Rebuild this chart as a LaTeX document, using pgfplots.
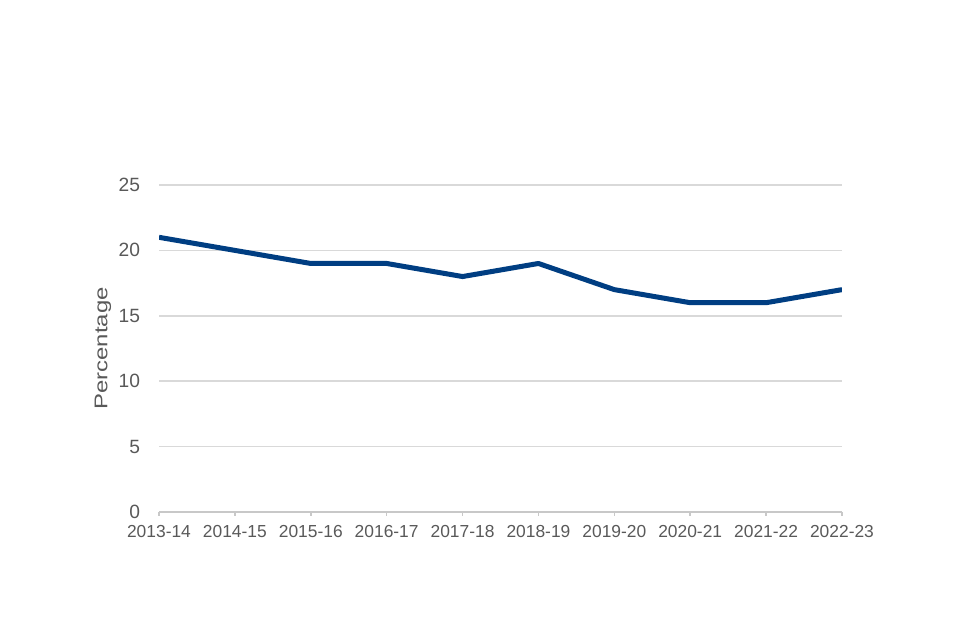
\documentclass[border=0pt]{standalone}
\usepackage{fontspec}
\setmainfont{Liberation Sans}
\usepackage{pgfplots}
\pgfplotsset{compat=1.18}
\definecolor{linecol}{RGB}{0,62,130}
\definecolor{gridcol}{RGB}{217,217,217}
\definecolor{axiscol}{RGB}{200,200,200}
\definecolor{textcol}{RGB}{89,89,89}
\begin{document}
\begin{tikzpicture}[x=1pt,y=1pt]
\path[use as bounding box] (0,0) rectangle (480,320);
\begin{axis}[
  at={(79.5pt,64pt)}, anchor=south west,
  scale only axis, width=341.5pt, height=163.5pt,
  xmin=0, xmax=9, ymin=0, ymax=25,
  ytick={0,5,...,25},
  xtick={0,...,9},
  xticklabels={2013-14,2014-15,2015-16,2016-17,2017-18,2018-19,2019-20,2020-21,2021-22,2022-23},
  axis x line=bottom, axis y line=left,
  x axis line style={-, draw=axiscol, line width=0.75pt},
  y axis line style={draw=none},
  ytick style={draw=none},
  xtick style={draw=axiscol, line width=0.75pt},
  tick align=outside, major tick length=2pt,
  ymajorgrids, grid style={gridcol, line width=0.75pt},
  tick label style={font=\fontsize{8.7}{10}\selectfont, text=textcol},
  /pgf/number format/assume math mode=true,
  yticklabel style={xshift=-4pt, font=\fontsize{9.6}{11}\selectfont},
  xticklabel style={yshift=-1pt},
  every axis y label/.style={at={(axis description cs:-0.082,0.5)}, rotate=90, anchor=center},
  ylabel={\scalebox{1.3}[1]{\fontsize{9.2}{10}\selectfont\color{textcol}Percentage}},
]
\addplot[linecol, line width=2.5pt, line join=round] coordinates {
  (0,21) (1,20) (2,19) (3,19) (4,18) (5,19) (6,17) (7,16) (8,16) (9,17)
};
\end{axis}
\end{tikzpicture}
\end{document}
